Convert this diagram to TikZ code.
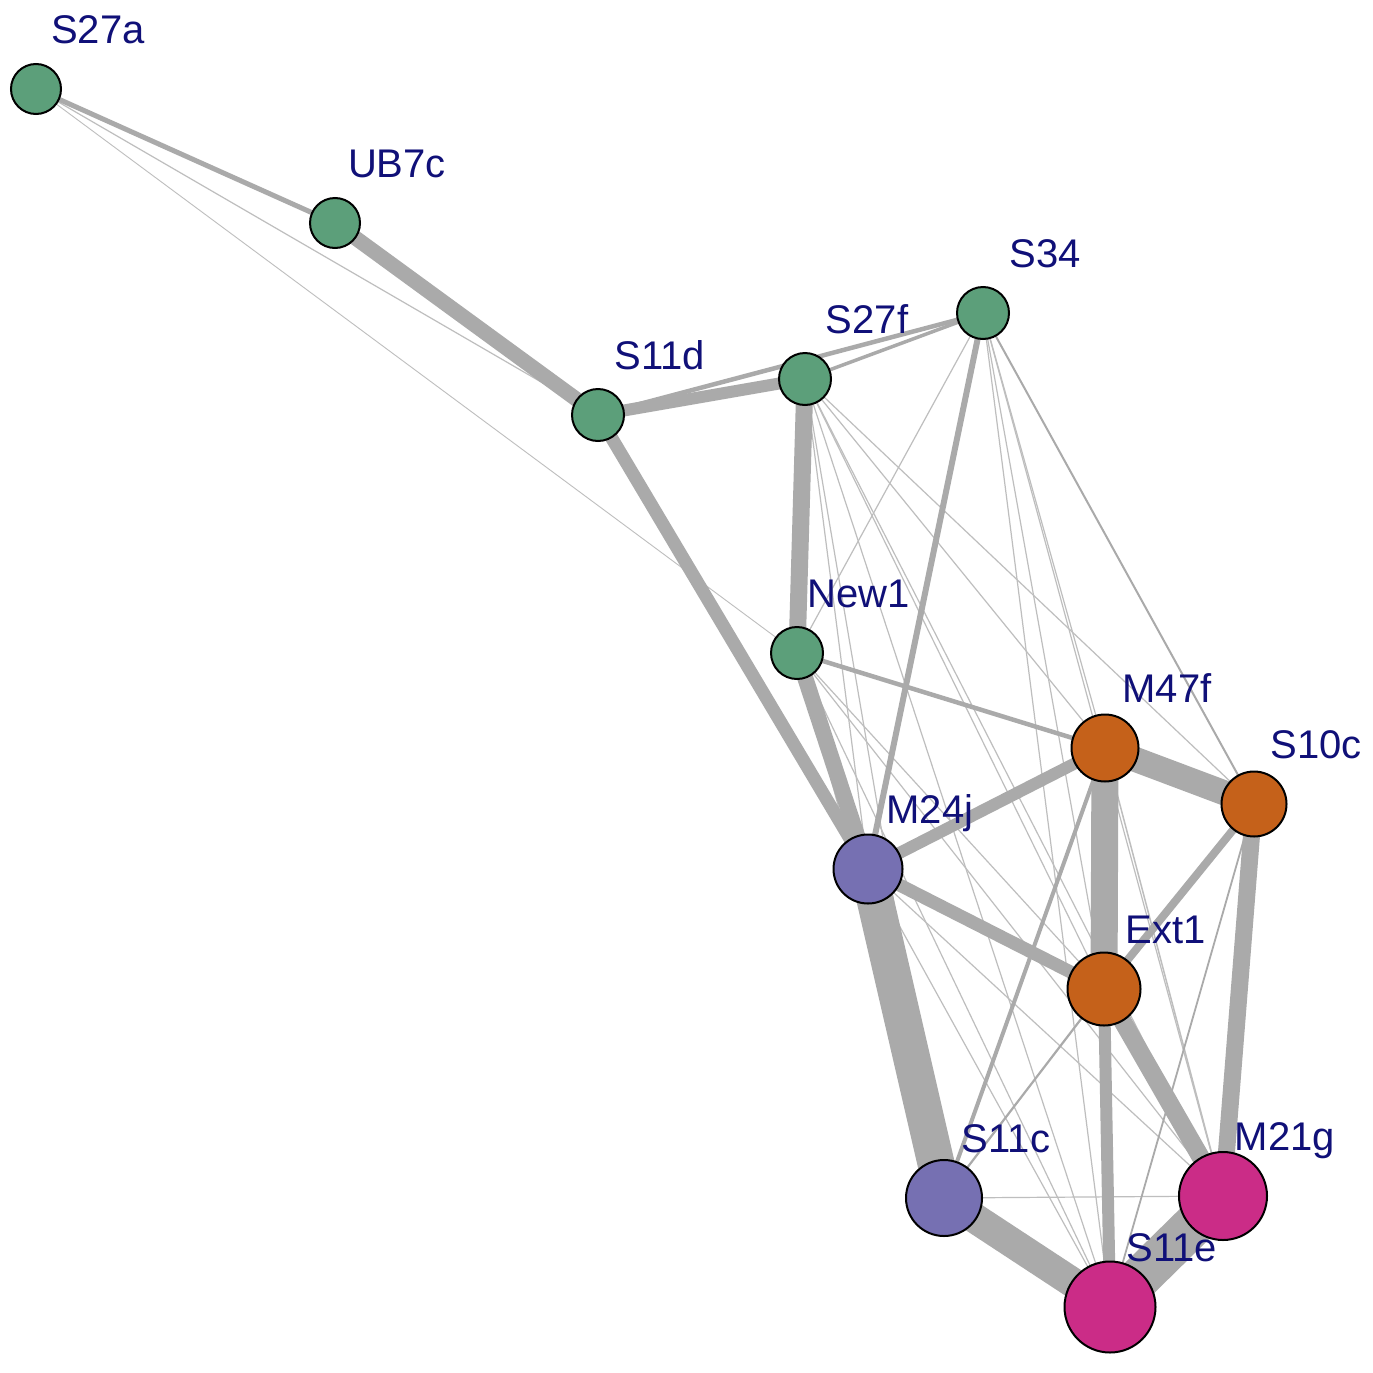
\documentclass[tikz,border=0pt]{standalone}
\usepackage{fontspec}
\setmainfont{Liberation Sans}
\usetikzlibrary{calc}
\definecolor{cgreen}{RGB}{92,159,122}
\definecolor{corange}{RGB}{197,97,26}
\definecolor{cpurple}{RGB}{118,112,178}
\definecolor{cmagenta}{RGB}{203,44,135}
\definecolor{edgec}{RGB}{170,170,170}
\definecolor{thinc}{RGB}{190,190,190}
\definecolor{labc}{RGB}{16,16,120}
\begin{document}
\begin{tikzpicture}[x=1pt,y=-1pt,
  vert/.style={circle,draw=black,line width=2pt,inner sep=0pt},
  lab/.style={anchor=base,text=labc,font=\fontsize{40}{48}\selectfont,inner sep=0pt},
  ew/.style={draw=edgec,line width=#1},
  tw/.style={draw=thinc,line width=#1}]
\useasboundingbox (0,0) rectangle (1373,1373);
\fill[white] (0,0) rectangle (1373,1373);
% coordinates
\coordinate (S27a) at (36,89);
\coordinate (UB7c) at (335,223);
\coordinate (S11d) at (598,415);
\coordinate (S27f) at (805,379);
\coordinate (S34) at (983,313);
\coordinate (New1) at (797,653);
\coordinate (M47f) at (1105,748);
\coordinate (S10c) at (1254,804);
\coordinate (M24j) at (868,869);
\coordinate (Ext1) at (1104,989);
\coordinate (S11c) at (944,1198);
\coordinate (M21g) at (1223,1196);
\coordinate (S11e) at (1110,1307);
% thin edges
\draw[tw=1.2] (S27a) -- (S11d);
\draw[tw=0.9] (S27a) -- (New1);
\draw[tw=1.2] (S34) -- (New1);
\draw[tw=1.2] (S34) -- (M47f);
\draw[tw=1.2] (S34) -- (Ext1);
\draw[tw=1.2] (S34) -- (M21g);
\draw[tw=1.2] (S34) -- (S11e);
\draw[tw=1.2] (S27f) -- (M24j);
\draw[tw=1.2] (S27f) -- (S11c);
\draw[tw=1.2] (S27f) -- (S11e);
\draw[tw=1.2] (S27f) -- (Ext1);
\draw[tw=1.2] (S27f) -- (M21g);
\draw[tw=1.2] (S27f) -- (M47f);
\draw[tw=1.2] (S27f) -- (S10c);
\draw[tw=1.2] (New1) -- (Ext1);
\draw[tw=1.2] (New1) -- (S11c);
\draw[tw=1.2] (New1) -- (S11e);
\draw[tw=1.2] (New1) -- (M21g);
\draw[tw=1.2] (M24j) -- (S11e);
\draw[tw=1.2] (M24j) -- (M21g);
\draw[tw=1.2] (S11c) -- (M21g);
\draw[tw=1.5] (M47f) -- (M21g);
% medium edges
\draw[ew=2] (S34) -- (S10c);
\draw[ew=2.2] (Ext1) -- (S11c);
\draw[ew=1.8] (S10c) -- (S11e);
\draw[ew=3.5] (S27f) -- (S34);
\draw[ew=4] (M47f) -- (S11c);
\draw[ew=4.5] (New1) -- (M47f);
\draw[ew=4.5] (S11d) -- (S34);
\draw[ew=6] (S34) -- (M24j);
\draw[ew=5] (S27a) -- (UB7c);
% thick edges
\draw[ew=8] (S10c) -- (Ext1);
\draw[ew=12] (M24j) -- (M47f);
\draw[ew=13] (M24j) -- (Ext1);
\draw[ew=12] (S11d) -- (S27f);
\draw[ew=13] (S11d) -- (M24j);
\draw[ew=15] (UB7c) -- (S11d);
\draw[ew=17] (S27f) -- (New1);
\draw[ew=16] (New1) -- (M24j);
\draw[ew=12] (Ext1) -- (S11e);
\draw[ew=18] (Ext1) -- (M21g);
\draw[ew=17] (S10c) -- (M21g);
\draw[ew=25] (M47f) -- (S10c);
\draw[ew=27] (M47f) -- (Ext1);
\draw[ew=30] (S11c) -- (S11e);
\draw[ew=37] (M24j) -- (S11c);
\draw[ew=42] (S11e) -- (M21g);
% vertices
\node[vert,fill=cgreen,minimum size=50pt] (vS27a) at (S27a) {};
\node[vert,fill=cgreen,minimum size=50pt] (vUB7c) at (UB7c) {};
\node[vert,fill=cgreen,minimum size=52pt] (vS11d) at (S11d) {};
\node[vert,fill=cgreen,minimum size=52pt] (vS27f) at (S27f) {};
\node[vert,fill=cgreen,minimum size=52pt] (vS34) at (S34) {};
\node[vert,fill=cgreen,minimum size=52pt] (vNew1) at (New1) {};
\node[vert,fill=corange,minimum size=67pt] (vM47f) at (M47f) {};
\node[vert,fill=corange,minimum size=65pt] (vS10c) at (S10c) {};
\node[vert,fill=cpurple,minimum size=69pt] (vM24j) at (M24j) {};
\node[vert,fill=corange,minimum size=73pt] (vExt1) at (Ext1) {};
\node[vert,fill=cpurple,minimum size=76pt] (vS11c) at (S11c) {};
\node[vert,fill=cmagenta,minimum size=88pt] (vM21g) at (M21g) {};
\node[vert,fill=cmagenta,minimum size=91pt] (vS11e) at (S11e) {};
% labels
\node[lab] (lS27a) at ($(S27a)+(62,-46)$) {S27a};
\node[lab] (lUB7c) at ($(UB7c)+(62,-46)$) {UB7c};
\node[lab] (lS11d) at ($(S11d)+(62,-46)$) {S11d};
\node[lab] (lS27f) at ($(S27f)+(62,-46)$) {S27f};
\node[lab] (lS34) at ($(S34)+(62,-46)$) {S34};
\node[lab] (lNew1) at ($(New1)+(62,-46)$) {New1};
\node[lab] (lM47f) at ($(M47f)+(62,-46)$) {M47f};
\node[lab] (lS10c) at ($(S10c)+(62,-46)$) {S10c};
\node[lab] (lM24j) at ($(M24j)+(62,-46)$) {M24j};
\node[lab] (lExt1) at ($(Ext1)+(62,-46)$) {Ext1};
\node[lab] (lS11c) at ($(S11c)+(62,-46)$) {S11c};
\node[lab] (lM21g) at ($(M21g)+(62,-46)$) {M21g};
\node[lab] (lS11e) at ($(S11e)+(62,-46)$) {S11e};
\end{tikzpicture}
\end{document}
